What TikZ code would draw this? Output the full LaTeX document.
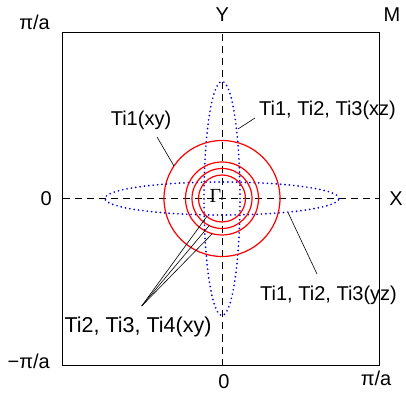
\documentclass[tikz,border=0pt]{standalone}
\usepackage{fontspec}
\setmainfont{Liberation Sans}
\newfontfamily\gammafont{Liberation Serif}
\usetikzlibrary{calc}
\definecolor{BandRed}{rgb}{1,0,0}
\definecolor{BandBlue}{rgb}{0,0,0.95}

\begin{document}
\begin{tikzpicture}[x=1pt,y=1pt,font=\fontsize{20}{23}\selectfont]
\tikzset{
  xyband/.style={color=BandRed,line width=1.2pt},
  dzband/.style={color=BandBlue,line width=1.9pt,line cap=round,dash pattern=on 0pt off 4.4pt},
  axisline/.style={line width=0.8pt,dash pattern=on 7pt off 5pt},
  lbl/.style={inner sep=0pt},
  pointer/.style={line width=0.6pt}
}
\useasboundingbox (-222,-196.5) rectangle (184,198.5);

% zone boundary and axes
\draw[line width=1pt] (-159,-167) rectangle (157,165.5);
\draw[axisline] (0,-167) -- (0,165.5);
\draw[axisline] (-159,0) -- (157,0);

% xz and yz sheets
\draw[dzband] (0,0) ellipse (18 and 117);
\draw[dzband] (0,0) ellipse (117 and 16.5);

% xy pockets
\draw[xyband] (0,0) circle (58);
\draw[xyband] (0,0) circle (36.5);
\draw[xyband] (0,0) circle (30);
\draw[xyband] (0,0) circle (23.5);

\node[circle,fill,inner sep=0.9pt] (G) at (0,0) {};
\node[lbl,anchor=base east,font=\gammafont\fontsize{20}{23}\selectfont] (Gam) at (-0.5,-4.2) {Γ};

% axis labels
\node (Y) at (0.3,183.5) {Y};
\node (M) at (170,183.5) {M};
\node (X) at (174,0) {X};
\node[lbl,anchor=east] (zl) at (-170,0) {0};
\node (zb) at (2,-183.5) {0};
\node[lbl,anchor=mid east] (pt) at (-172,171.5) {π/a};
\node[lbl,anchor=mid east] (pb) at (-172,-167.5) {−π/a};
\node[lbl,anchor=mid] (pr) at (154,-184.5) {π/a};

% band labels
\node[lbl] (l1) at (-81,78.5) {Ti1(xy)};
\node[lbl,anchor=west] (l2) at (37,88.5) {Ti1, Ti2, Ti3(xz)};
\node[lbl,anchor=west] (l3) at (38,-96.5) {Ti1, Ti2, Ti3(yz)};
\node[lbl,font=\fontsize{21.5}{24}\selectfont] (l4) at (-84,-128.5) {Ti2, Ti3, Ti4(xy)};

\coordinate (a1) at (-65,61.5);
\coordinate (b1) at (145.9:58);
\coordinate (a2) at (33,80.5);
\coordinate (b2) at (16,69.5);
\coordinate (a3) at (66,-14);
\coordinate (b3) at (95,-75.5);
\coordinate (a4) at (-80.3,-107.5);
\coordinate (b4) at (229.8:23.5);
\coordinate (c4) at (244.7:30);
\coordinate (d4) at (254.6:36.5);

\draw[pointer] (a1) -- (b1);
\draw[pointer] (a2) -- (b2);
\draw[pointer] (a3) -- (b3);
\draw[pointer] (a4) -- (b4);
\draw[pointer] (a4) -- (c4);
\draw[pointer] (a4) -- (d4);

\end{tikzpicture}
\end{document}
